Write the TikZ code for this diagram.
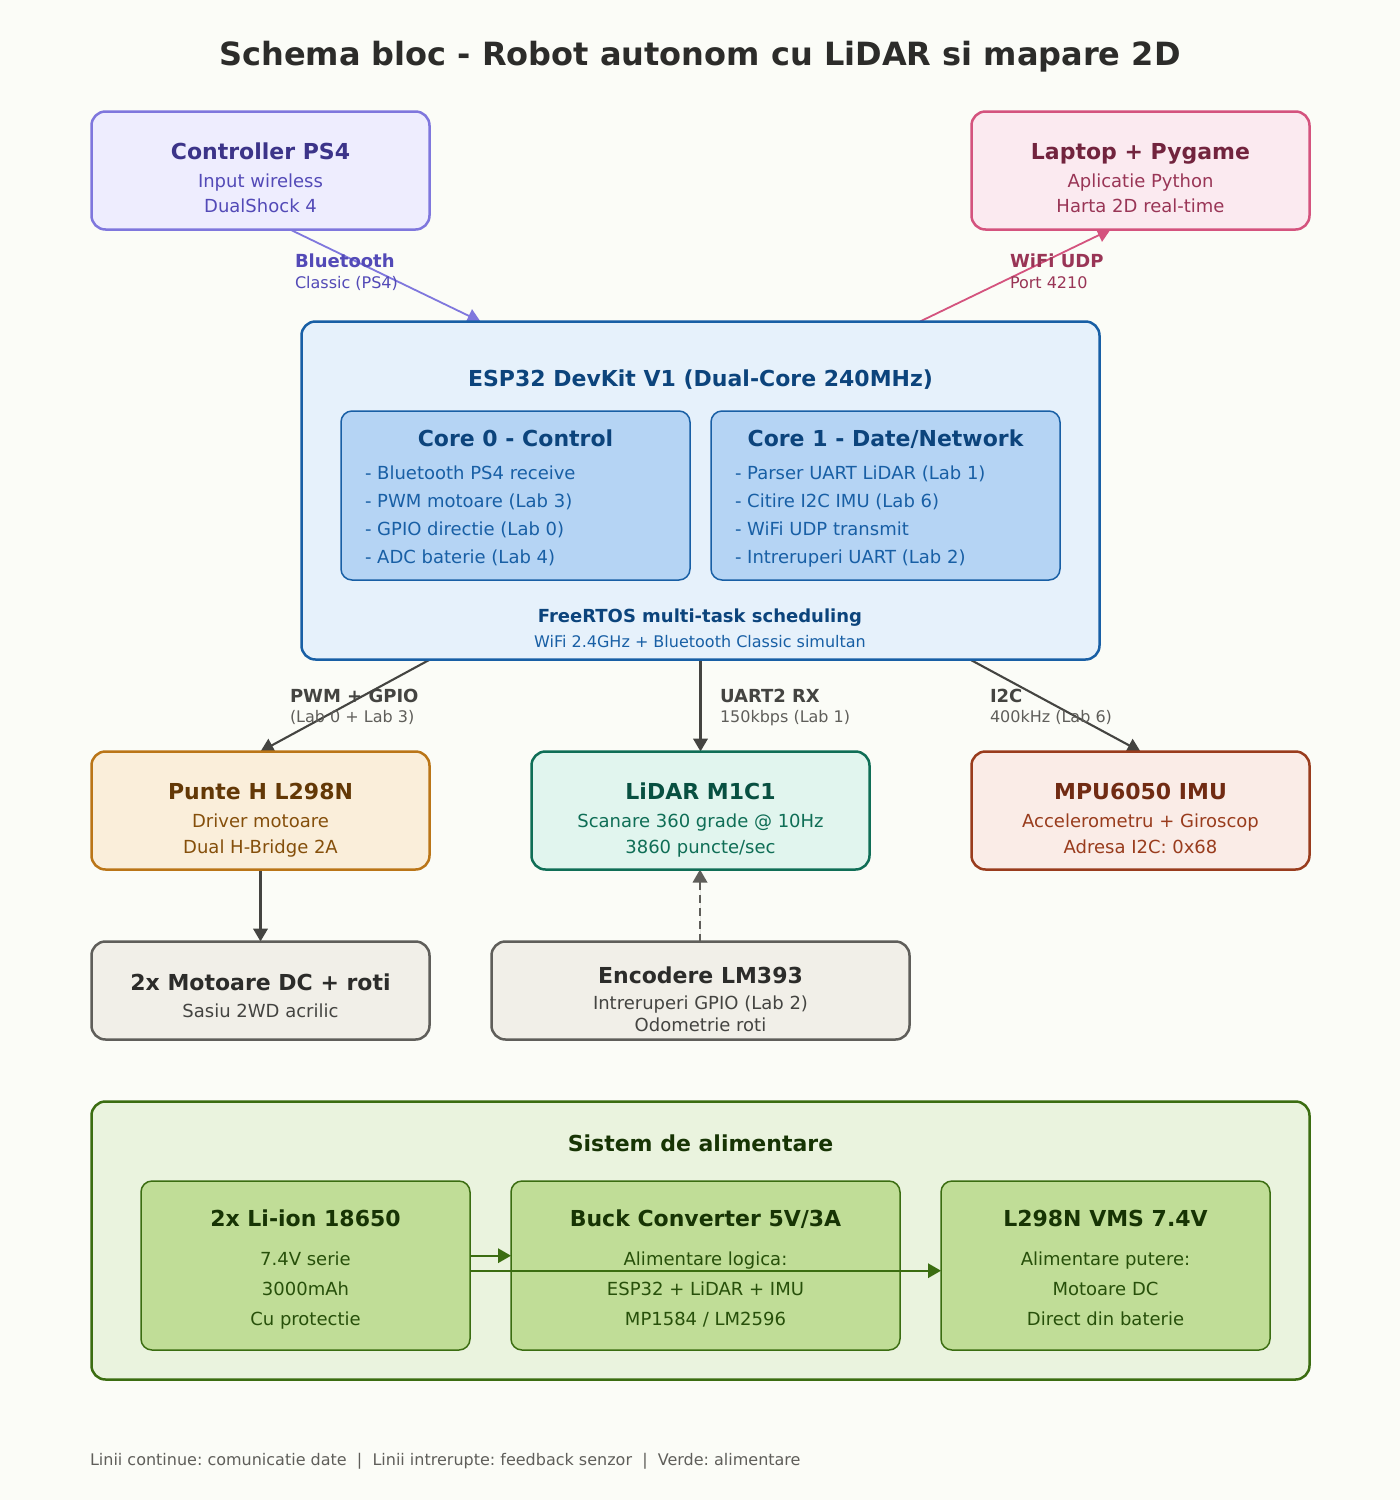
\documentclass[tikz,border=0pt]{standalone}
\usepackage{fontspec}
\setmainfont{DejaVu Sans}
\usetikzlibrary{arrows.meta,backgrounds,calc}
\definecolor{pagebg}{HTML}{FBFCF7}
\definecolor{purS}{HTML}{7F77DD}\definecolor{purF}{HTML}{EEEDFE}\definecolor{purT}{HTML}{3C3489}\definecolor{purU}{HTML}{534AB7}
\definecolor{pinS}{HTML}{D4537E}\definecolor{pinF}{HTML}{FBEAF0}\definecolor{pinT}{HTML}{72243E}\definecolor{pinU}{HTML}{993556}
\definecolor{bluS}{HTML}{185FA5}\definecolor{bluF}{HTML}{E6F1FB}\definecolor{bluT}{HTML}{0C447C}\definecolor{bluC}{HTML}{B5D4F4}
\definecolor{ambS}{HTML}{BA7517}\definecolor{ambF}{HTML}{FAEEDA}\definecolor{ambT}{HTML}{633806}\definecolor{ambU}{HTML}{854F0B}
\definecolor{teaS}{HTML}{0F6E56}\definecolor{teaF}{HTML}{E1F5EE}\definecolor{teaT}{HTML}{085041}
\definecolor{redS}{HTML}{993C1D}\definecolor{redF}{HTML}{FAECE7}\definecolor{redT}{HTML}{712B13}
\definecolor{graS}{HTML}{5F5E5A}\definecolor{graF}{HTML}{F1EFE8}\definecolor{graT}{HTML}{2C2C2A}\definecolor{graU}{HTML}{444441}
\definecolor{greS}{HTML}{3B6D11}\definecolor{greF}{HTML}{EAF3DE}\definecolor{greT}{HTML}{173404}\definecolor{greU}{HTML}{27500A}\definecolor{greC}{HTML}{C0DD97}
\def\px{0.5pt}
\tikzset{
  block/.style 2 args={draw=#1,fill=#2,line width=1.25pt,rounded corners=7pt,inner sep=0pt,outer sep=0pt},
  inner/.style 2 args={draw=#1,fill=#2,line width=0.75pt,rounded corners=5.5pt,inner sep=0pt,outer sep=0pt},
  boxsize/.style 2 args={minimum width=#1*\px,minimum height=#2*\px},
  txt/.style={anchor=base,inner sep=0pt,outer sep=0pt},
  title/.style={txt,font=\bfseries\fontsize{16}{18}\selectfont},
  head/.style={txt,xshift=0.25pt,font=\bfseries\fontsize{11}{13}\selectfont},
  subt/.style={txt,xshift=0.25pt,font=\fontsize{9}{11}\selectfont},
  itm/.style={txt,anchor=base west,font=\fontsize{9}{11}\selectfont},
  lab/.style={txt,anchor=base west,font=\bfseries\fontsize{9}{11}\selectfont},
  labsub/.style={txt,anchor=base west,font=\fontsize{8}{10}\selectfont},
  link/.style={-{Triangle[length=6.5pt,width=7.2pt]},line width=#1},
}
\begin{document}
\frenchspacing
\begin{tikzpicture}[x=\px,y=-\px]
\useasboundingbox (0,0) rectangle (1400,1500);
\node[title,text=graT] (maintitle) at (700,65) {Schema bloc - Robot autonom cu LiDAR si mapare 2D};

\node[block={purS}{purF},boxsize={338}{118}] (ctrl) at (260.5,170.5) {};
\node[head,text=purT] (ctrlhead) at (260,159) {Controller PS4};
\node[subt,text=purU] (ctrlsuba) at (260,187) {Input wireless};
\node[subt,text=purU] (ctrlsubb) at (260,212) {DualShock 4};

\node[block={pinS}{pinF},boxsize={338}{118}] (laptop) at (1140.5,170.5) {};
\node[head,text=pinT] (laptophead) at (1140,159) {Laptop + Pygame};
\node[subt,text=pinU] (laptopsuba) at (1140,187) {Aplicatie Python};
\node[subt,text=pinU] (laptopsubb) at (1140,212) {Harta 2D real-time};

\node[block={bluS}{bluF},boxsize={798}{338}] (esp) at (700.5,490.5) {};
\node[head,text=bluT] (esphead) at (700,386) {ESP32 DevKit V1 (Dual-Core 240MHz)};
\node[inner={bluS}{bluC},boxsize={349}{169}] (corea) at (515.5,495.5) {};
\node[head,text=bluT] (coreahead) at (515,446) {Core 0 - Control};
\node[itm,text=bluS] (coreaa) at (365,479) {- Bluetooth PS4 receive};
\node[itm,text=bluS] (coreab) at (365,507) {- PWM motoare (Lab 3)};
\node[itm,text=bluS] (coreac) at (365,535) {- GPIO directie (Lab 0)};
\node[itm,text=bluS] (coread) at (365,563) {- ADC baterie (Lab 4)};
\node[inner={bluS}{bluC},boxsize={349}{169}] (coreb) at (885.5,495.5) {};
\node[head,text=bluT] (corebhead) at (885,446) {Core 1 - Date/Network};
\node[itm,text=bluS] (coreba) at (735,479) {- Parser UART LiDAR (Lab 1)};
\node[itm,text=bluS] (corebb) at (735,507) {- Citire I2C IMU (Lab 6)};
\node[itm,text=bluS] (corebc) at (735,535) {- WiFi UDP transmit};
\node[itm,text=bluS] (corebd) at (735,563) {- Intreruperi UART (Lab 2)};
\node[txt,font=\bfseries\fontsize{9}{11}\selectfont,text=bluT] (rtos) at (700,622) {FreeRTOS multi-task scheduling};
\node[txt,font=\fontsize{8}{10}\selectfont,text=bluS] (rtossub) at (700,647) {WiFi 2.4GHz + Bluetooth Classic simultan};

\node[block={ambS}{ambF},boxsize={338}{118}] (punte) at (260.5,810.5) {};
\node[head,text=ambT] (puntehead) at (260,799) {Punte H L298N};
\node[subt,text=ambU] (puntesuba) at (260,827) {Driver motoare};
\node[subt,text=ambU] (puntesubb) at (260,853) {Dual H-Bridge 2A};

\node[block={teaS}{teaF},boxsize={338}{118}] (lidar) at (700.5,810.5) {};
\node[head,text=teaT] (lidarhead) at (700,799) {LiDAR M1C1};
\node[subt,text=teaS] (lidarsuba) at (700,827) {Scanare 360 grade @ 10Hz};
\node[subt,text=teaS] (lidarsubb) at (700,853) {3860 puncte/sec};

\node[block={redS}{redF},boxsize={338}{118}] (mpu) at (1140.5,810.5) {};
\node[head,text=redT] (mpuhead) at (1140,799) {MPU6050 IMU};
\node[subt,text=redS] (mpusuba) at (1140,827) {Accelerometru + Giroscop};
\node[subt,text=redS] (mpusubb) at (1140,853) {Adresa I2C: 0x68};

\node[block={graS}{graF},boxsize={338}{98}] (motoare) at (260.5,990.5) {};
\node[head,text=graT] (motoarehead) at (260,990) {2x Motoare DC + roti};
\node[subt,text=graU] (motoaresub) at (260,1017) {Sasiu 2WD acrilic};

\node[block={graS}{graF},boxsize={418}{98}] (encoder) at (700.5,990.5) {};
\node[head,text=graT] (encoderhead) at (700,983) {Encodere LM393};
\node[subt,text=graU] (encodersuba) at (700,1009) {Intreruperi GPIO (Lab 2)};
\node[subt,text=graU] (encodersubb) at (700,1031) {Odometrie roti};

\node[block={greS}{greF},boxsize={1218}{278}] (power) at (700.5,1240.5) {};
\node[head,text=greT] (powerhead) at (700,1151) {Sistem de alimentare};
\node[inner={greS}{greC},boxsize={329}{169}] (batt) at (305.5,1265.5) {};
\node[head,text=greT] (batthead) at (305,1226) {2x Li-ion 18650};
\node[subt,text=greU] (battsuba) at (305,1265) {7.4V serie};
\node[subt,text=greU] (battsubb) at (305,1295) {3000mAh};
\node[subt,text=greU] (battsubc) at (305,1325) {Cu protectie};
\node[inner={greS}{greC},boxsize={389}{169}] (buck) at (705.5,1265.5) {};
\node[head,text=greT] (buckhead) at (705,1226) {Buck Converter 5V/3A};
\node[subt,text=greU] (bucksuba) at (705,1265) {Alimentare logica:};
\node[subt,text=greU] (bucksubb) at (705,1295) {ESP32 + LiDAR + IMU};
\node[subt,text=greU] (bucksubc) at (705,1325) {MP1584 / LM2596};
\node[inner={greS}{greC},boxsize={329}{169}] (vms) at (1105.5,1265.5) {};
\node[head,text=greT] (vmshead) at (1105,1226) {L298N VMS 7.4V};
\node[subt,text=greU] (vmssuba) at (1105,1265) {Alimentare putere:};
\node[subt,text=greU] (vmssubb) at (1105,1295) {Motoare DC};
\node[subt,text=greU] (vmssubc) at (1105,1325) {Direct din baterie};

\begin{scope}[on background layer]
\fill[pagebg] (0,0) rectangle (1400,1500);
\draw[link=0.9pt,draw=purS,fill=purS] ($(ctrl.south)+(29.5,0)$) -- ($(esp.north)+(-220,0)$);
\draw[link=0.9pt,draw=pinS,fill=pinS] ($(esp.north)+(219.5,0)$) -- ($(laptop.south)+(-30,0)$);
\draw[link=1.05pt,draw=graU,fill=graU] ($(esp.south)+(-270.5,0)$) -- (punte.north);
\draw[link=1.4pt,draw=graU,fill=graU] (esp.south) -- (lidar.north);
\draw[link=1.05pt,draw=graU,fill=graU] ($(esp.south)+(269.5,0)$) -- (mpu.north);
\draw[link=1.4pt,draw=graU,fill=graU] (punte.south) -- (motoare.north);
\draw[link=1.1pt,draw=graS,fill=graS,dash pattern=on 4pt off 2.5pt] ($(encoder.north)+(-0.5,0)$) -- ($(lidar.south)+(-0.5,0)$);
\end{scope}

\draw[link=1pt,draw=greS,fill=greS] ($(batt.east)+(0,-9.8)$) -- ($(buck.west)+(0,-9.8)$);
\draw[link=1pt,draw=greS,fill=greS] ($(batt.east)+(0,5.2)$) -- ($(vms.west)+(0,5.2)$);

\node[lab,text=purU] (btlab) at (295,267) {Bluetooth};
\node[labsub,text=purU] (btsub) at (295,288) {Classic (PS4)};
\node[lab,text=pinU] (wifilab) at (1010,267) {WiFi UDP};
\node[labsub,text=pinU] (wifisub) at (1010,288) {Port 4210};
\node[lab,text=graU] (pwmlab) at (290,702) {PWM + GPIO};
\node[labsub,text=graS] (pwmsub) at (290,722) {(Lab 0 + Lab 3)};
\node[lab,text=graU] (uartlab) at (720,702) {UART2 RX};
\node[labsub,text=graS] (uartsub) at (720,722) {150kbps (Lab 1)};
\node[lab,text=graU] (iiclab) at (990,702) {I2C};
\node[labsub,text=graS] (iicsub) at (990,722) {400kHz (Lab 6)};
\node[labsub,text=graS] (footer) at (90,1465) {Linii continue: comunicatie date\ \ |\ \ Linii intrerupte: feedback senzor\ \ |\ \ Verde: alimentare};
\end{tikzpicture}
\end{document}
